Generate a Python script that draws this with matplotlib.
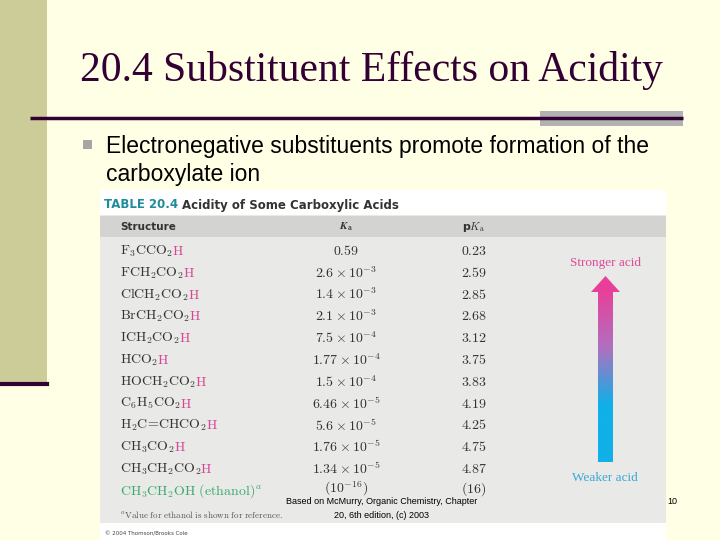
import matplotlib
matplotlib.use("Agg")
import matplotlib.pyplot as plt
import numpy as np
from matplotlib.patches import Rectangle, Polygon
from matplotlib.colors import LinearSegmentedColormap

plt.rcParams['mathtext.fontset'] = 'cm'

title = "20.4 Substituent Effects on Acidity"
bullet = ["Electronegative substituents promote formation of the", "carboxylate ion"]
structures = [r"F_3CCO_2", r"FCH_2CO_2", r"ClCH_2CO_2", r"BrCH_2CO_2", r"ICH_2CO_2", r"HCO_2",
              r"HOCH_2CO_2", r"C_6H_5CO_2", r"H_2C\!=\!CHCO_2", r"CH_3CO_2", r"CH_3CH_2CO_2"]
ka = [r"0.59", r"2.6\times10^{-3}", r"1.4\times10^{-3}", r"2.1\times10^{-3}", r"7.5\times10^{-4}",
      r"1.77\times10^{-4}", r"1.5\times10^{-4}", r"6.46\times10^{-5}", r"5.6\times10^{-5}",
      r"1.76\times10^{-5}", r"1.34\times10^{-5}"]
pka = ["0.23", "2.59", "2.85", "2.68", "3.12", "3.75", "3.83", "4.19", "4.25", "4.75", "4.87"]

fig = plt.figure(figsize=(7.2, 5.4), dpi=100)
fig.patch.set_facecolor('#FFFFE6')
ax = fig.add_axes([0, 0, 1, 1])
ax.set_xlim(0, 720); ax.set_ylim(540, 0); ax.axis('off')

ax.add_patch(Rectangle((0, 0), 47, 383, color='#CCCC99', lw=0))
ax.plot([0, 47], [384, 384], color='#330033', lw=3)
ax.text(80, 70, title, fontsize=30, family='Liberation Serif', color='#330033', va='center')
ax.add_patch(Rectangle((540, 111), 143, 15, color='#B2B2B2', lw=0))
ax.plot([30, 683], [117.5, 117.5], color='#330033', lw=2.5, solid_capstyle='butt')
ax.add_patch(Rectangle((83, 140), 9, 9, color='#A6A6A6', lw=0))
for i, s in enumerate(bullet):
    ax.text(106, 146 + 29 * i, s, fontsize=16.5, family='Liberation Sans', va='center', color='black')

# table
ax.add_patch(Rectangle((100, 190), 566, 350, color='white', lw=0))
ax.add_patch(Rectangle((100, 215), 566, 308, color='#E9E9E7', lw=0))
ax.add_patch(Rectangle((100, 216), 566, 21, color='#D3D3D1', lw=0))
ax.text(104, 205, "TABLE 20.4", fontsize=8.5, weight='bold', color='#1E8C9C', va='center', family='DejaVu Sans')
ax.text(182, 205, "Acidity of Some Carboxylic Acids", fontsize=8.5, weight='bold', color='#333333', va='center', family='DejaVu Sans')
ax.text(120, 227, "Structure", fontsize=7.5, weight='bold', color='#333333', va='center')
ax.text(346, 227, r"$\boldsymbol{K}_\mathbf{a}$", fontsize=8, color='#333333', va='center', ha='center')
ax.text(474, 227, r"p$K_\mathrm{a}$", fontsize=8, weight='bold', color='#333333', va='center', ha='center')

fig.canvas.draw()
r = fig.canvas.get_renderer()
inv = ax.transData.inverted()
for i in range(len(structures)):
    y = 251 + 21.8 * i
    t = ax.text(120, y, "$\\mathrm{" + structures[i] + "}$", fontsize=10, color='#333333', va='center')
    bb = t.get_window_extent(r)
    x1 = inv.transform((bb.x1, bb.y0))[0]
    ax.text(x1 - 1, y, "$\\mathrm{H}$", fontsize=10, color='#D94595', va='center')
    ax.text(346, y, "$" + ka[i] + "$", fontsize=10, color='#333333', va='center', ha='center')
    ax.text(474, y, "$\\mathrm{" + pka[i] + "}$", fontsize=10, color='#333333', va='center', ha='center')
ye = 251 + 21.8 * 11
ax.text(120, ye, r"$\mathrm{CH_3CH_2OH\ (ethanol)^{\it a}}$", fontsize=10, color='#3AAA6A', va='center')
ax.text(346, ye - 2, r"$(10^{-16})$", fontsize=10, color='#333333', va='center', ha='center')
ax.text(474, ye - 2, r"$\mathrm{(16)}$", fontsize=10, color='#333333', va='center', ha='center')
ax.text(120, 514, r"$\mathrm{^{\it a}Value\ for\ ethanol\ is\ shown\ for\ reference.}$", fontsize=6.5, color='#555555', va='center')
ax.text(105, 534, "© 2004 Thomson/Brooks Cole", fontsize=4, color='#444444', va='center')

ax.text(605, 263, "Stronger acid", fontsize=9.5, family='Liberation Serif', color='#E0489A', ha='center', va='center')
ax.text(605, 478, "Weaker acid", fontsize=9.5, family='Liberation Serif', color='#3AA8D8', ha='center', va='center')
cmap = LinearSegmentedColormap.from_list('g', ['#E8409A', '#B070C0', '#10B0E8', '#10B0E8'])
ax.imshow(np.linspace(0, 1, 200).reshape(-1, 1), extent=[598, 613, 462, 290], cmap=cmap, aspect='auto', zorder=2)
ax.add_patch(Polygon([[591, 292], [620, 292], [605.5, 276]], color='#E8409A', lw=0, zorder=3))
ax.set_xlim(0, 720); ax.set_ylim(540, 0)

ax.text(382, 502, "Based on McMurry, Organic Chemistry, Chapter", fontsize=6.5, family='Liberation Sans', ha='center', va='center')
ax.text(382, 515, "20, 6th edition, (c) 2003", fontsize=6.5, family='Liberation Sans', ha='center', va='center')
ax.text(672, 502, "10", fontsize=6.5, family='Liberation Sans', ha='center', va='center')

fig.savefig("out.png", dpi=100, facecolor=fig.get_facecolor())
